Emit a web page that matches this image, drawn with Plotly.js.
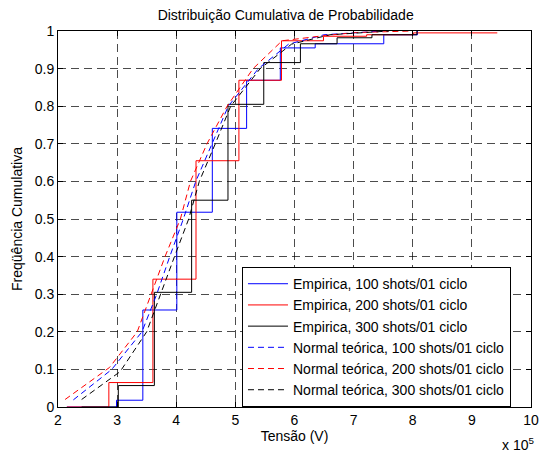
<!DOCTYPE html>
<html>
<head>
<meta charset="utf-8">
<script src="https://cdn.plot.ly/plotly-3.0.1.min.js"></script>
<style>html,body{margin:0;padding:0;background:#fff;}#chart{width:539px;height:455px;}</style>
</head>
<body>
<div id="chart"></div>
<script>
// Tensão in units of 1e5 V
var emp100_x = [2.15, 2.99, 3.435, 4.01, 4.61, 5.19, 5.76, 6.35, 7.51, 8.08];
var emp100_y = [0, 0.018, 0.258, 0.518, 0.741, 0.869, 0.955, 0.966, 0.99, 1.0];
var emp200_x = [2.15, 2.86, 3.605, 4.334, 5.06, 5.78, 6.49, 7.22, 8.01, 9.43];
var emp200_y = [0, 0.065, 0.34, 0.655, 0.869, 0.974, 0.986, 0.99, 0.995, 0.995];
var emp300_x = [2.4, 3.02, 3.63, 4.26, 4.875, 5.48, 6.10, 6.72, 7.31, 8.07];
var emp300_y = [0, 0.057, 0.305, 0.55, 0.805, 0.916, 0.966, 0.982, 0.99, 1.0];

var norm100_x = [2.26, 2.91, 3.42, 3.67, 3.89, 4.12, 4.33, 4.60, 4.88, 5.39, 5.9, 6.5, 7.5];
var norm100_y = [0.019, 0.1, 0.2, 0.3, 0.4, 0.5, 0.6, 0.7, 0.8, 0.9, 0.965, 0.99, 1.0];
var norm200_x = [2.12, 2.87, 3.34, 3.58, 3.81, 4.07, 4.24, 4.52, 4.86, 5.30, 5.79, 6.52, 7.05, 8.0];
var norm200_y = [0.02, 0.105, 0.2, 0.3, 0.4, 0.5, 0.6, 0.7, 0.8, 0.9, 0.974, 0.988, 0.996, 1.0];
var norm300_x = [2.40, 3.05, 3.50, 3.73, 3.97, 4.21, 4.39, 4.66, 4.92, 5.42, 5.95, 6.6, 7.6];
var norm300_y = [0.02, 0.094, 0.2, 0.3, 0.4, 0.5, 0.6, 0.7, 0.8, 0.9, 0.965, 0.99, 1.0];

var names = ["Empirica, 100 shots/01 ciclo", "Empirica, 200 shots/01 ciclo", "Empirica, 300 shots/01 ciclo",
             "Normal teórica, 100 shots/01 ciclo", "Normal teórica, 200 shots/01 ciclo", "Normal teórica, 300 shots/01 ciclo"];
var xTicks = [2, 3, 4, 5, 6, 7, 8, 9, 10];
var xTickText = ["2", "3", "4", "5", "6", "7", "8", "9", "10"];
var yTicks = [0, 0.1, 0.2, 0.3, 0.4, 0.5, 0.6, 0.7, 0.8, 0.9, 1];
var yTickText = ["0", "0.1", "0.2", "0.3", "0.4", "0.5", "0.6", "0.7", "0.8", "0.9", "1"];

var FONT = "Arial, 'Liberation Sans', sans-serif";
var traces = [
  {x: emp100_x, y: emp100_y, name: names[0], mode: "lines", line: {color: "#0000ff", width: 1, shape: "hv"}},
  {x: emp200_x, y: emp200_y, name: names[1], mode: "lines", line: {color: "#ff0000", width: 1, shape: "hv"}},
  {x: emp300_x, y: emp300_y, name: names[2], mode: "lines", line: {color: "#000000", width: 1, shape: "hv"}},
  {x: norm100_x, y: norm100_y, name: names[3], mode: "lines", line: {color: "#0000ff", width: 1, dash: "6px,4px"}},
  {x: norm200_x, y: norm200_y, name: names[4], mode: "lines", line: {color: "#ff0000", width: 1, dash: "6px,4px"}},
  {x: norm300_x, y: norm300_y, name: names[5], mode: "lines", line: {color: "#000000", width: 1, dash: "6px,4px"}}
];

var layout = {
  width: 539, height: 455,
  margin: {l: 58, r: 8, t: 31, b: 48},
  paper_bgcolor: "#fff", plot_bgcolor: "#fff",
  font: {family: FONT, size: 13, color: "#000"},
  title: {text: "Distribuição Cumulativa de Probabilidade", x: 0.53, xanchor: "center", y: 0.966, yanchor: "middle", font: {family: FONT, size: 14, color: "#000"}},
  showlegend: true,
  legend: {x: 0.389, xanchor: "left", y: 0.372, yanchor: "top", bgcolor: "#fff", bordercolor: "#000", borderwidth: 1,
           font: {family: FONT, size: 14, color: "#000"}, tracegroupgap: 0, itemwidth: 40},
  xaxis: {range: [2, 10], tickmode: "array", tickvals: xTicks, ticktext: xTickText, ticks: "inside", ticklen: 5,
          tickcolor: "#000", showline: true, linecolor: "#000", linewidth: 1, mirror: "allticks",
          showgrid: true, gridcolor: "#000", gridwidth: 0.7, griddash: "8px,5px", zeroline: false,
          title: {text: "Tensão (V)", font: {family: FONT, size: 14, color: "#000"}, standoff: 4},
          tickfont: {family: FONT, size: 14, color: "#000"}},
  yaxis: {range: [0, 1], tickmode: "array", tickvals: yTicks, ticktext: yTickText, ticks: "inside", ticklen: 5,
          tickcolor: "#000", showline: true, linecolor: "#000", linewidth: 1, mirror: "allticks",
          showgrid: true, gridcolor: "#000", gridwidth: 0.7, griddash: "8px,5px", zeroline: false,
          title: {text: "Freqüência Cumulativa", font: {family: FONT, size: 14, color: "#000"}, standoff: 8},
          tickfont: {family: FONT, size: 14, color: "#000"}},
  annotations: [{xref: "paper", yref: "paper", x: 1.01, y: -0.068, xanchor: "right", yanchor: "top",
                 text: "x 10<sup>5</sup>", showarrow: false, font: {family: FONT, size: 14, color: "#000"}}]
};

Plotly.newPlot("chart", traces, layout, {displayModeBar: false, staticPlot: true});
</script>
</body>
</html>
